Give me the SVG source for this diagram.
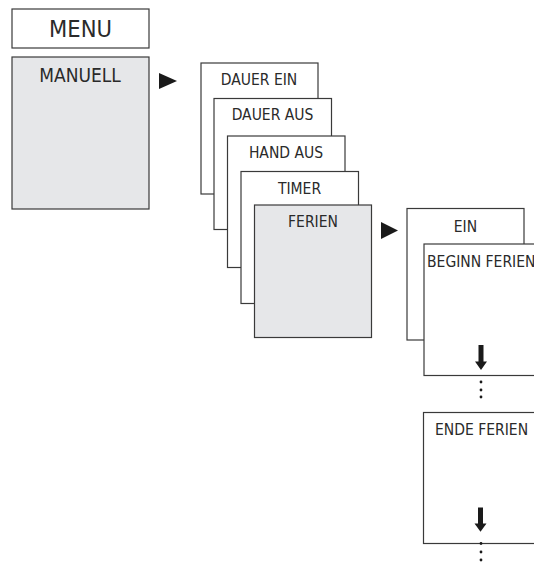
<svg xmlns="http://www.w3.org/2000/svg" width="534" height="562" viewBox="0 0 534 562">
<style>
.box{fill:#fff;stroke:#3a3a3a;stroke-width:1.2}
.gray{fill:#e6e7e9;stroke:#3a3a3a;stroke-width:1.2}
.t{font-family:"DejaVu Sans Condensed","DejaVu Sans",sans-serif;fill:#2a2a2a;text-anchor:middle}
.s{font-size:15.5px}
.big{font-size:23.5px}
.mid{font-size:19px}
.arr{fill:#1a1a1a}
</style>
<rect width="534" height="562" fill="#fff"/>
<g id="menu"><rect class="box" x="12" y="9" width="137" height="39"/><text class="t big" x="80.5" y="36.5">MENU</text></g>
<g id="manuell"><rect class="gray" x="12" y="57" width="137" height="152"/><text class="t mid" x="80" y="82">MANUELL</text></g>
<g id="dauer-ein"><rect class="box" x="201" y="63" width="117" height="131"/><text class="t s" x="259" y="85">DAUER EIN</text></g>
<g id="dauer-aus"><rect class="box" x="214" y="98.5" width="117.5" height="131"/><text class="t s" x="272.5" y="120">DAUER AUS</text></g>
<g id="hand-aus"><rect class="box" x="227.5" y="136" width="117.5" height="131.5"/><text class="t s" x="286" y="158">HAND AUS</text></g>
<g id="timer"><rect class="box" x="241" y="171.5" width="117.5" height="132"/><text class="t s" x="299.5" y="194">TIMER</text></g>
<g id="ferien"><rect class="gray" x="254.5" y="205" width="117" height="132.5"/><text class="t s" x="313" y="227">FERIEN</text></g>
<g id="ein"><rect class="box" x="407" y="208.5" width="117" height="131.5"/><text class="t s" x="465.5" y="231.5">EIN</text></g>
<g id="beginn-ferien"><rect class="box" x="424" y="244" width="120" height="131.5"/><text class="t s" x="427" y="266.5" style="text-anchor:start">BEGINN FERIEN</text></g>
<g id="ende-ferien"><rect class="box" x="423.5" y="412.5" width="120" height="131"/><text class="t s" x="435" y="434.5" style="text-anchor:start">ENDE FERIEN</text></g>
<g id="connectors">
<polygon class="arr" points="159,73 177,81 159,89"/>
<polygon class="arr" points="381,222 398,230.5 381,239"/>
<polygon class="arr" points="478.5,345 483.5,345 483.5,361.5 487,361.5 481,370 475,361.5 478.5,361.5"/>
<polygon class="arr" points="478,507.5 483,507.5 483,523.5 486.5,523.5 480.5,531.7 474.5,523.5 478,523.5"/>
<circle class="arr" cx="481" cy="382" r="1.4"/>
<circle class="arr" cx="481" cy="390" r="1.4"/>
<circle class="arr" cx="481" cy="397" r="1.4"/>
<circle class="arr" cx="481" cy="543.5" r="1.4"/>
<circle class="arr" cx="481" cy="552" r="1.4"/>
<circle class="arr" cx="481" cy="560" r="1.4"/>
</g>
</svg>
